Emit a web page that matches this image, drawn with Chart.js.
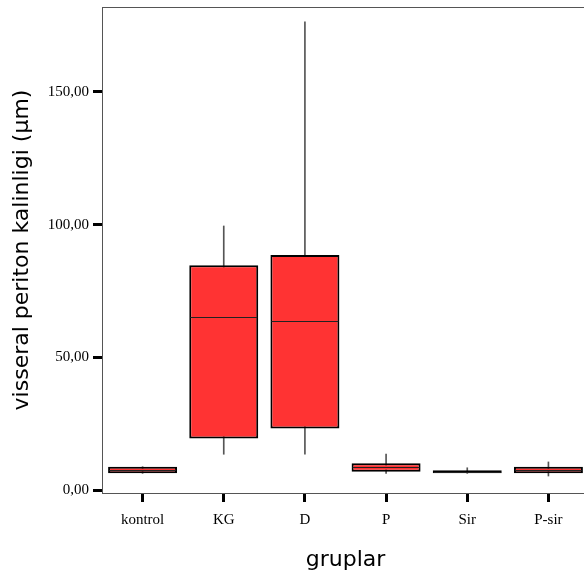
<!DOCTYPE html>
<html>
<head>
<meta charset="utf-8">
<script src="https://cdn.jsdelivr.net/npm/chart.js@4.4.0/dist/chart.umd.min.js"></script>
<style>
  html, body { margin: 0; padding: 0; background: #fff; overflow: hidden; }
  #chart { display: block; }
</style>
</head>
<body>
<canvas id="chart" width="590" height="577"></canvas>
<script>
// box plot values
const groups = ["kontrol", "KG", "D", "P", "Sir", "P-sir"];
const mins    = [6.3, 13.5, 13.5, 6.3, 6.3, 5.3];
const q1s     = [6.3, 19.4, 23.2, 6.9, 6.3, 6.3];
const medians = [7.5, 65.3, 63.6, 8.6, 7.0, 7.5];
const q3s     = [8.8, 84.7, 88.6, 10.1, 7.5, 8.8];
const maxs    = [8.8, 99.5, 176.4, 13.6, 8.4, 10.6];
const yTicks  = [0, 50, 100, 150];

const boxes = groups.map((g, i) => [q1s[i], q3s[i]]);
const whiskers = groups.map((g, i) => [mins[i], maxs[i]]);

// medians + frame drawn with the chart's own scales
const boxExtras = {
    id: 'boxExtras',
    afterDatasetsDraw(chart) {
        const ctx = chart.ctx;
        const y = chart.scales.y;
        const meta = chart.getDatasetMeta(1);
        ctx.save();
        ctx.strokeStyle = '#222';
        ctx.lineWidth = 1;
        meta.data.forEach((bar, i) => {
            const py = Math.round(y.getPixelForValue(medians[i])) + 0.5;
            ctx.beginPath();
            ctx.moveTo(bar.x - bar.width / 2 + 1, py);
            ctx.lineTo(bar.x + bar.width / 2 - 1, py);
            ctx.stroke();
        });
        const a = chart.chartArea;
        ctx.strokeStyle = '#555';
        ctx.strokeRect(a.left + 0.5, a.top + 0.5, a.right - a.left - 1, a.bottom - a.top);
        ctx.restore();
    }
};

const ctx = document.querySelector('#chart').getContext('2d');
const chart = new Chart(ctx, {
    type: 'bar',
    data: {
        labels: groups,
        datasets: [{
            label: 'whisker',
            data: whiskers,
            backgroundColor: '#555',
            barThickness: 1,
            grouped: false,
            order: 2
        }, {
            label: 'box',
            data: boxes,
            backgroundColor: '#ff3333',
            borderColor: '#000',
            borderWidth: 2,
            borderSkipped: false,
            barPercentage: 0.85,
            categoryPercentage: 1,
            grouped: false,
            order: 1
        }]
    },
    options: {
        responsive: false,
        animation: false,
        layout: {
            padding: { top: 7, right: 1, left: 0, bottom: 0 }
        },
        scales: {
            x: {
                afterFit: (s) => { s.height = 84; s.paddingLeft = 0; s.paddingRight = 0; },
                grid: {
                    offset: false,
                    drawOnChartArea: false,
                    tickLength: 9,
                    tickWidth: 3,
                    tickColor: '#000'
                },
                border: { color: '#555', width: 1 },
                ticks: {
                    color: '#000',
                    padding: 9,
                    font: { family: 'Liberation Serif', size: 15 }
                },
                title: {
                    display: true,
                    text: 'gruplar',
                    color: '#000',
                    padding: 4,
                    font: { family: 'DejaVu Sans', size: 22 }
                }
            },
            y: {
                min: -1.1,
                max: 182,
                afterFit: (s) => { s.width = 102; s.paddingTop = 0; s.paddingBottom = 0; },
                afterBuildTicks: (s) => { s.ticks = yTicks.map(v => ({ value: v })); },
                grid: {
                    drawOnChartArea: false,
                    tickLength: 9,
                    tickWidth: 3,
                    tickColor: '#000'
                },
                border: { color: '#555', width: 1 },
                ticks: {
                    color: '#000',
                    padding: 4,
                    font: { family: 'Liberation Serif', size: 15 },
                    callback: (v) => v.toFixed(2).replace('.', ',')
                },
                title: {
                    display: true,
                    text: 'visseral periton kalinligi (µm)',
                    color: '#000',
                    padding: 9,
                    font: { family: 'DejaVu Sans', size: 22 }
                }
            }
        },
        plugins: {
            legend: { display: false },
            tooltip: { enabled: false }
        }
    },
    plugins: [boxExtras]
});
</script>
</body>
</html>
